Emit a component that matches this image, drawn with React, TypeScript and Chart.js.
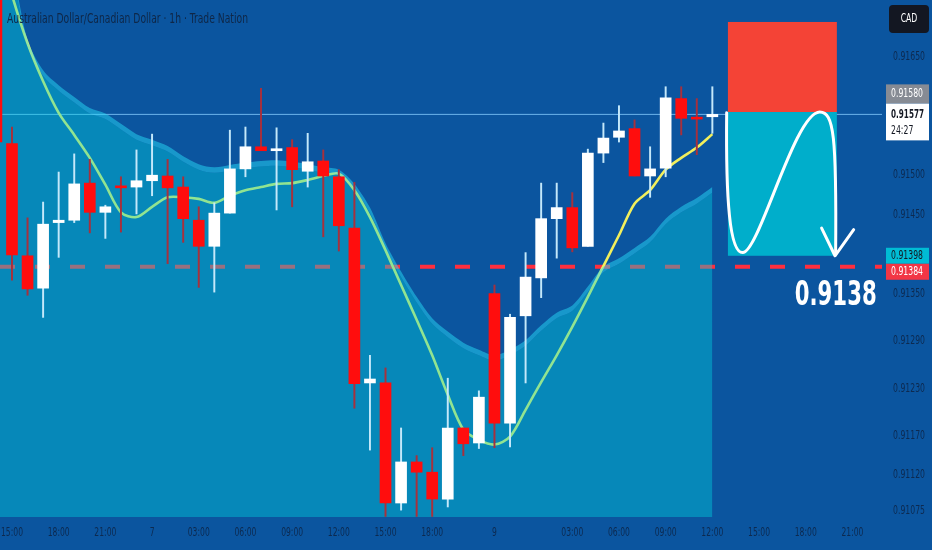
import React, { useEffect, useRef } from "react";
import { Chart, registerables } from "chart.js";

Chart.register(...registerables);

// ---------- DATA ----------
const TITLE = "Australian Dollar/Canadian Dollar · 1h · Trade Nation";
const CURRENCY = "CAD";
const COUNTDOWN = "24:27";

// hourly bar index (0 = 15:00 on the 6th)
const candleIndex = [-1, 0, 1, 2, 3, 4, 5, 6, 7, 8, 9, 10, 11, 12, 13, 14, 15, 16, 17, 18, 19, 20, 21, 22, 23, 24, 25, 26, 27, 28, 29, 30, 31, 32, 33, 34, 35, 36, 37, 38, 39, 40, 41, 42, 43, 44, 45];
const opens = [0.91747, 0.9154, 0.91398, 0.91357, 0.9144, 0.91443, 0.9149, 0.91453, 0.91486, 0.91485, 0.91493, 0.91499, 0.91485, 0.91443, 0.9141, 0.91452, 0.91508, 0.91536, 0.91531, 0.91535, 0.91505, 0.91518, 0.91498, 0.91433, 0.91237, 0.91237, 0.91085, 0.91137, 0.91124, 0.9109, 0.9118, 0.91161, 0.9135, 0.91186, 0.91322, 0.9137, 0.91445, 0.91459, 0.9141, 0.91528, 0.91548, 0.91559, 0.91499, 0.91509, 0.91597, 0.91573, 0.91574];
const highs = [0.91772, 0.91561, 0.91446, 0.91466, 0.91504, 0.91527, 0.9152, 0.91462, 0.91498, 0.91532, 0.91552, 0.9152, 0.91498, 0.9146, 0.91465, 0.91557, 0.91561, 0.9161, 0.9156, 0.91545, 0.91553, 0.91532, 0.91507, 0.91491, 0.91272, 0.91256, 0.9118, 0.91145, 0.91155, 0.91243, 0.9118, 0.91227, 0.91361, 0.91324, 0.91402, 0.9149, 0.9149, 0.91478, 0.91533, 0.91566, 0.91588, 0.9157, 0.91536, 0.91612, 0.91612, 0.91597, 0.91612];
const lows = [0.91538, 0.91367, 0.91348, 0.9132, 0.91396, 0.9144, 0.91427, 0.9142, 0.91428, 0.91451, 0.91474, 0.91388, 0.91415, 0.91358, 0.91352, 0.91452, 0.91498, 0.91531, 0.91456, 0.9146, 0.91485, 0.91422, 0.91404, 0.91205, 0.91152, 0.91068, 0.91076, 0.91068, 0.91068, 0.9108, 0.91145, 0.91154, 0.91155, 0.91156, 0.91237, 0.91345, 0.91395, 0.91403, 0.9141, 0.91516, 0.91542, 0.91499, 0.91472, 0.91498, 0.91551, 0.91526, 0.91553];
const closes = [0.91542, 0.91399, 0.91356, 0.91438, 0.91443, 0.91489, 0.91453, 0.9146, 0.91484, 0.91493, 0.915, 0.91484, 0.91445, 0.9141, 0.91452, 0.91508, 0.91536, 0.91531, 0.91533, 0.91507, 0.91517, 0.91499, 0.91436, 0.91236, 0.91242, 0.91085, 0.91137, 0.91124, 0.9109, 0.9118, 0.9116, 0.91219, 0.91186, 0.9132, 0.91371, 0.91445, 0.91459, 0.91408, 0.91528, 0.91547, 0.91556, 0.91499, 0.91508, 0.91598, 0.91572, 0.91571, 0.91577];

// moving average (yellow line)
const maValues = [0.918, 0.91728, 0.91667, 0.91619, 0.91579, 0.91551, 0.91522, 0.91488, 0.91453, 0.91447, 0.9146, 0.91472, 0.91472, 0.9147, 0.91465, 0.91474, 0.91481, 0.91485, 0.91489, 0.9149, 0.91494, 0.91499, 0.91502, 0.91481, 0.91447, 0.91405, 0.91361, 0.91317, 0.91272, 0.91222, 0.91178, 0.91165, 0.91159, 0.91169, 0.91203, 0.91238, 0.91272, 0.91308, 0.91346, 0.91385, 0.91424, 0.91464, 0.91481, 0.91507, 0.91522, 0.91535, 0.91552];

// upper envelope of the shaded area
const bandUpper = [0.918, 0.9176, 0.91671, 0.91633, 0.91614, 0.91599, 0.91585, 0.91578, 0.91565, 0.91552, 0.91545, 0.91537, 0.91524, 0.91514, 0.9151, 0.91513, 0.91516, 0.91518, 0.91519, 0.91517, 0.91514, 0.9151, 0.91507, 0.91489, 0.91459, 0.91414, 0.91378, 0.91346, 0.91319, 0.91302, 0.91288, 0.91279, 0.91272, 0.91279, 0.91291, 0.9131, 0.91326, 0.91335, 0.91359, 0.91384, 0.91395, 0.91408, 0.91422, 0.91445, 0.9146, 0.91471, 0.91485];

// axis ticks
const xTickIndex = [0, 3, 6, 9, 12, 15, 18, 21, 24, 27, 31, 36, 39, 42, 45, 48, 51, 54];
const xTickLabels = ["15:00", "18:00", "21:00", "7", "03:00", "06:00", "09:00", "12:00", "15:00", "18:00", "9", "03:00", "06:00", "09:00", "12:00", "15:00", "18:00", "21:00"];
const yTickValues = [0.9165, 0.915, 0.9145, 0.9135, 0.9129, 0.9123, 0.9117, 0.9112, 0.91075];

// levels / trade idea
const lastPrice = 0.91577;
const entryLevel = 0.9158;
const stopLevel = 0.91694;
const targetLevel = 0.91398;
const dashedLevel = 0.91384;
const targetText = "0.9138";
const zoneStartIndex = 46;
const zoneEndIndex = 53;

// drawn path of the arrow (bar index, price)
const curveStart = [45.92, 0.91579];
const curveSegments = [
  [[45.86, 0.91469], [46.11, 0.91402], [46.95, 0.91402]],
  [[48.0, 0.91402], [50.3, 0.9158], [51.9, 0.9158]],
  [[52.8, 0.9158], [52.99, 0.91551], [52.92, 0.914]],
];
const arrowLeft = [52.02, 0.91433];
const arrowTip = [52.88, 0.91398];
const arrowRight = [54.08, 0.91431];
const targetTextAnchor = [55.56, 0.91336];

// axis range
const X_MIN = -0.77;
const X_MAX = 55.9;
const Y_MIN = 0.910673;
const Y_MAX = 0.917218;
const BAND_STRIP = 0.00007;

// ---------- STYLE ----------
const BG = "#0b559f";
const TICK_COLOR = "#0d2a50";
const NARROW = '"Liberation Sans Narrow", "DejaVu Sans Condensed", "DejaVu Sans", sans-serif';

function fitText(ctx: CanvasRenderingContext2D, text: string, x: number, y: number, sx: number) {
  ctx.save();
  ctx.translate(x, y);
  ctx.scale(sx, 1);
  ctx.fillText(text, 0, 0);
  ctx.restore();
}

export default function App() {
  const ref = useRef<HTMLCanvasElement>(null);

  useEffect(() => {
    const canvas = ref.current!;
    const up = candleIndex.map((_, i) => closes[i] >= opens[i]);

    const bgPlugin = {
      id: "bg",
      beforeDraw(chart: any) {
        const { ctx, width, height } = chart;
        ctx.save();
        ctx.fillStyle = BG;
        ctx.fillRect(0, 0, width, height);
        ctx.restore();
      },
    };

    const overlayPlugin = {
      id: "overlay",
      afterDatasetsDraw(chart: any) {
        const { ctx, scales } = chart;
        const xs = scales.x;
        const ys = scales.y;
        const P = (p: number[]) => [xs.getPixelForValue(p[0]), ys.getPixelForValue(p[1])];
        ctx.save();
        const zx0 = xs.getPixelForValue(zoneStartIndex);
        const zx1 = xs.getPixelForValue(zoneEndIndex);
        const yS = ys.getPixelForValue(stopLevel);
        const yE = ys.getPixelForValue(entryLevel);
        const yT = ys.getPixelForValue(targetLevel);
        ctx.fillStyle = "#f44336";
        ctx.fillRect(zx0, yS, zx1 - zx0, yE - yS);
        ctx.fillStyle = "#00aecb";
        ctx.fillRect(zx0, yE, zx1 - zx0, yT - yE);

        ctx.strokeStyle = "#ffffff";
        ctx.lineWidth = 3;
        ctx.lineCap = "round";
        ctx.lineJoin = "round";
        ctx.beginPath();
        const s = P(curveStart);
        ctx.moveTo(s[0], s[1]);
        for (const seg of curveSegments) {
          const a = P(seg[0]);
          const b = P(seg[1]);
          const c = P(seg[2]);
          ctx.bezierCurveTo(a[0], a[1], b[0], b[1], c[0], c[1]);
        }
        ctx.stroke();
        ctx.beginPath();
        const l = P(arrowLeft);
        const t = P(arrowTip);
        const r = P(arrowRight);
        ctx.moveTo(l[0], l[1]);
        ctx.lineTo(t[0], t[1]);
        ctx.lineTo(r[0], r[1]);
        ctx.stroke();

        // big target text
        const ta = P(targetTextAnchor);
        ctx.font = `bold 34px ${NARROW}`;
        ctx.fillStyle = "#ffffff";
        ctx.textBaseline = "alphabetic";
        ctx.textAlign = "right";
        const w = ctx.measureText(targetText).width;
        fitText(ctx, targetText, ta[0], ta[1], Math.min(1, 82 / w));
        ctx.restore();
      },
      afterDraw(chart: any) {
        const { ctx, chartArea, width, scales } = chart;
        const xs = scales.x;
        const ys = scales.y;
        ctx.save();

        // y tick labels
        ctx.font = `12px ${NARROW}`;
        ctx.fillStyle = TICK_COLOR;
        ctx.textAlign = "left";
        ctx.textBaseline = "middle";
        const ysx = Math.min(1, 32 / ctx.measureText("0.91650").width);
        for (const v of yTickValues) {
          fitText(ctx, v.toFixed(5), chartArea.right + 11, ys.getPixelForValue(v), ysx);
        }

        // x tick labels
        ctx.font = `13px ${NARROW}`;
        ctx.textAlign = "center";
        const xsx = Math.min(1, 22 / ctx.measureText("15:00").width);
        xTickIndex.forEach((v, i) => {
          fitText(ctx, xTickLabels[i], xs.getPixelForValue(v), chartArea.bottom + 16, xsx);
        });

        const bx = chartArea.right + 4;
        const bw = width - 3 - bx;
        const tx = bx + 5;
        ctx.textAlign = "left";
        ctx.textBaseline = "middle";

        // last price (white) box
        const yLast = ys.getPixelForValue(lastPrice);
        const wTop = yLast - 11;
        ctx.fillStyle = "#ffffff";
        ctx.fillRect(bx, wTop, bw, 37);
        ctx.fillStyle = "#131722";
        ctx.font = `bold 12px ${NARROW}`;
        let sx = Math.min(1, 33 / ctx.measureText("0.91577").width);
        fitText(ctx, lastPrice.toFixed(5), tx, wTop + 11, sx);
        ctx.font = `12px ${NARROW}`;
        sx = Math.min(1, 32 / ctx.measureText("0.91577").width);
        fitText(ctx, COUNTDOWN, tx, wTop + 27, sx);

        // entry (gray) box above
        ctx.fillStyle = "#868b94";
        ctx.fillRect(bx, wTop - 19, bw, 19);
        ctx.fillStyle = "#ffffff";
        fitText(ctx, entryLevel.toFixed(5), tx, wTop - 9.5, sx);

        // target (cyan) box
        const yT = ys.getPixelForValue(targetLevel);
        ctx.fillStyle = "#00bcd4";
        ctx.fillRect(bx, yT - 8, bw, 16);
        ctx.fillStyle = "#131722";
        fitText(ctx, targetLevel.toFixed(5), tx, yT, sx);

        // dashed level (red) box
        ctx.fillStyle = "#f23645";
        ctx.fillRect(bx, yT + 8, bw, 16);
        ctx.fillStyle = "#ffffff";
        fitText(ctx, dashedLevel.toFixed(5), tx, yT + 16, sx);

        // currency box
        ctx.fillStyle = "#131722";
        ctx.beginPath();
        ctx.roundRect(bx + 3, 5, bw - 3, 28, 4);
        ctx.fill();
        ctx.fillStyle = "#ffffff";
        ctx.textAlign = "center";
        ctx.font = `12px ${NARROW}`;
        fitText(ctx, CURRENCY, bx + 3 + (bw - 3) / 2, 19, sx);

        // title
        ctx.textAlign = "left";
        ctx.font = `14px ${NARROW}`;
        ctx.fillStyle = "#0f2747";
        const tw = ctx.measureText(TITLE).width;
        fitText(ctx, TITLE, 7, 19, 241 / tw);
        ctx.restore();
      },
    };

    const chart = new Chart(canvas, {
      type: "bar",
      data: {
        datasets: [
          {
            type: "bar",
            data: candleIndex.map((x, i) => ({ x, y: [opens[i], closes[i]] })) as any,
            backgroundColor: up.map((u) => (u ? "#ffffff" : "#ff0d0d")),
            barThickness: 11,
            minBarLength: 2,
            grouped: false,
            borderWidth: 0,
            order: 0,
          } as any,
          {
            type: "bar",
            data: candleIndex.map((x, i) => ({ x, y: [lows[i], highs[i]] })) as any,
            backgroundColor: up.map((u) => (u ? "#c4e8fa" : "#a8303c")),
            barThickness: 1.3,
            grouped: false,
            borderWidth: 0,
            order: 1,
          } as any,
          {
            type: "line",
            data: candleIndex.map((x, i) => ({ x, y: bandUpper[i] })),
            borderWidth: 0,
            pointRadius: 0,
            tension: 0.3,
            fill: "+1",
            backgroundColor: "rgba(37,219,247,0.5)",
            order: 2,
          } as any,
          {
            type: "line",
            data: candleIndex.map((x, i) => ({ x, y: bandUpper[i] - BAND_STRIP })),
            borderWidth: 0,
            pointRadius: 0,
            tension: 0.3,
            fill: "start",
            backgroundColor: "rgba(1,212,224,0.4)",
            order: 2,
          } as any,
          {
            type: "line",
            data: candleIndex.map((x, i) => ({ x, y: maValues[i] })),
            borderColor: "#f2ef5c",
            borderWidth: 2.6,
            pointRadius: 0,
            tension: 0.3,
            fill: false,
            order: 3,
          } as any,
          {
            type: "line",
            data: [
              { x: X_MIN, y: lastPrice },
              { x: X_MAX, y: lastPrice },
            ],
            borderColor: "#6db4ec",
            borderWidth: 1,
            pointRadius: 0,
            fill: false,
            order: 4,
          } as any,
          {
            type: "line",
            data: [
              { x: X_MIN, y: dashedLevel },
              { x: X_MAX, y: dashedLevel },
            ],
            borderColor: "#ff2e3e",
            borderWidth: 4,
            borderDash: [15, 20],
            pointRadius: 0,
            fill: false,
            order: 5,
          } as any,
        ],
      },
      options: {
        responsive: false,
        animation: false,
        layout: { padding: 0 },
        plugins: {
          legend: { display: false },
          tooltip: { enabled: false },
          title: { display: false },
        },
        scales: {
          x: {
            type: "linear",
            min: X_MIN,
            max: X_MAX,
            offset: false,
            grid: { display: false, drawTicks: false },
            border: { display: false },
            ticks: { display: false },
            afterBuildTicks: (s: any) => {
              s.ticks = xTickIndex.map((v) => ({ value: v }));
            },
            afterFit: (s: any) => {
              s.height = 33;
              s.paddingLeft = 0;
              s.paddingRight = 0;
            },
          } as any,
          y: {
            type: "linear",
            position: "right",
            min: Y_MIN,
            max: Y_MAX,
            beginAtZero: false,
            grid: { display: false, drawTicks: false },
            border: { display: false },
            ticks: { display: false },
            afterBuildTicks: (s: any) => {
              s.ticks = yTickValues.map((v) => ({ value: v }));
            },
            afterFit: (s: any) => {
              s.width = 50;
              s.paddingTop = 0;
              s.paddingBottom = 0;
            },
          } as any,
        },
      } as any,
      plugins: [bgPlugin, overlayPlugin],
    });
    return () => chart.destroy();
  }, []);

  return (
    <div style={{ position: "absolute", left: 0, top: 0, width: 932, height: 550 }}>
      <canvas ref={ref} width={932} height={550} style={{ display: "block", width: 932, height: 550 }} />
    </div>
  );
}
